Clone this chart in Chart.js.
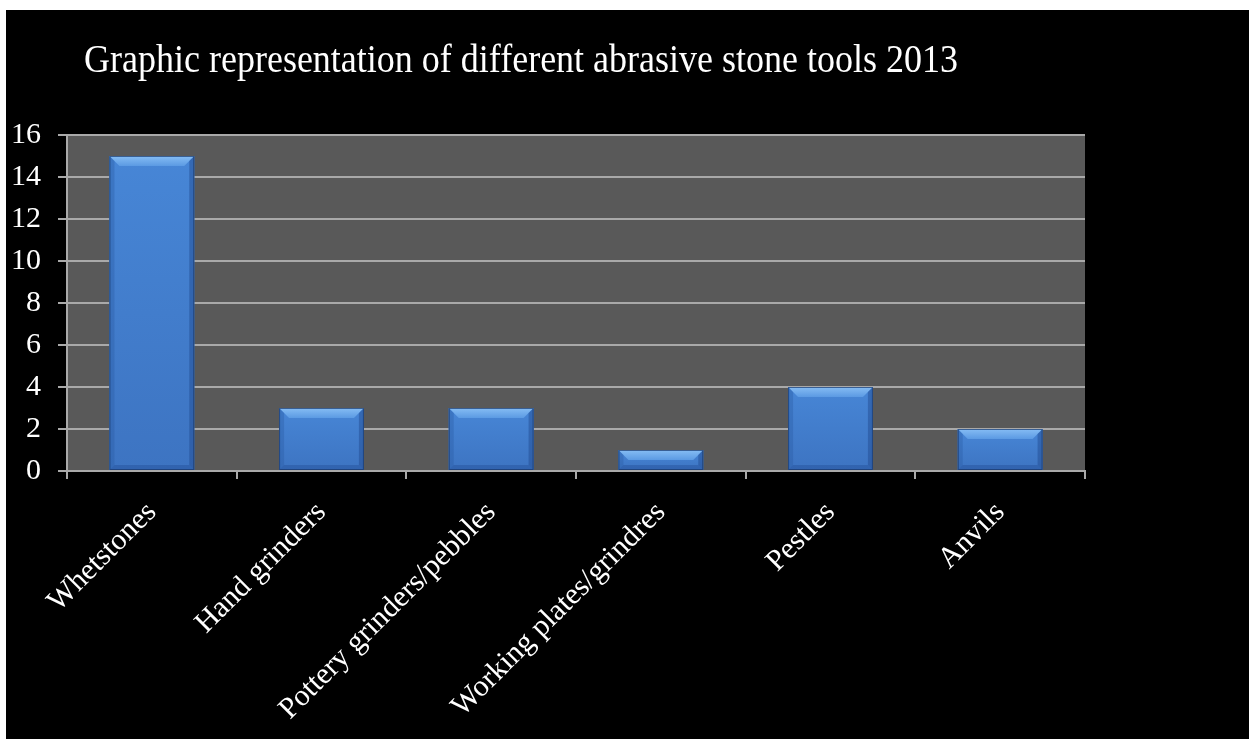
<!DOCTYPE html>
<html>
<head>
<meta charset="utf-8">
<title>Abrasive stone tools 2013</title>
<script src="https://cdn.jsdelivr.net/npm/chart.js@4"></script>
<style>
  html, body { margin: 0; padding: 0; background: #ffffff; }
  #wrap { position: absolute; left: 6px; top: 10px; width: 1243px; height: 729px; background: #000000; }
  #toolChart { display: block; }
</style>
</head>
<body>
<div id="wrap">
  <canvas id="toolChart" width="1243" height="729"></canvas>
</div>
<script>
// tool counts per category
var chartTitle = 'Graphic representation of different abrasive stone tools 2013';
var toolTypes = ['Whetstones', 'Hand grinders', 'Pottery grinders/pebbles', 'Working plates/grindres', 'Pestles', 'Anvils'];
var toolCounts = [15, 3, 3, 1, 4, 2];
var yTicks = [0, 2, 4, 6, 8, 10, 12, 14, 16];

var gridGray = '#a9a9a9';
var serif = '"Liberation Serif", "Times New Roman", serif';

// black page + grey plot area
var plotBackground = {
  id: 'plotBackground',
  beforeDraw: function(chart) {
    var ctx = chart.ctx, a = chart.chartArea;
    ctx.save();
    ctx.fillStyle = '#000000';
    ctx.fillRect(0, 0, chart.width, chart.height);
    ctx.fillStyle = '#595959';
    ctx.fillRect(a.left, a.top, a.right - a.left, a.bottom - a.top);
    ctx.restore();
  }
};

// bevelled edges on each bar
var barBevel = {
  id: 'barBevel',
  afterDatasetsDraw: function(chart) {
    var ctx = chart.ctx;
    var meta = chart.getDatasetMeta(0);
    meta.data.forEach(function(bar) {
      var p = bar.getProps(['x', 'y', 'base', 'width'], true);
      var l = p.x - p.width / 2, r = p.x + p.width / 2;
      var t = Math.min(p.y, p.base), b = Math.max(p.y, p.base);
      var s = Math.min(10, (b - t) / 2);
      ctx.save();
      // face
      var face = ctx.createLinearGradient(0, t, 0, b);
      face.addColorStop(0, '#4786d6');
      face.addColorStop(1, '#3d74c2');
      ctx.fillStyle = face;
      ctx.fillRect(l, t, r - l, b - t);
      // top
      var top = ctx.createLinearGradient(0, t, 0, t + s);
      top.addColorStop(0, '#86bdf4');
      top.addColorStop(1, '#5b9ae3');
      ctx.fillStyle = top;
      ctx.beginPath();
      ctx.moveTo(l, t); ctx.lineTo(r, t); ctx.lineTo(r - s, t + s); ctx.lineTo(l + s, t + s);
      ctx.closePath(); ctx.fill();
      // left
      ctx.fillStyle = 'rgba(40,90,160,0.35)';
      ctx.beginPath();
      ctx.moveTo(l, t); ctx.lineTo(l + s / 2, t + s / 2); ctx.lineTo(l + s / 2, b - s / 2); ctx.lineTo(l, b);
      ctx.closePath(); ctx.fill();
      // right
      ctx.fillStyle = 'rgba(30,70,140,0.45)';
      ctx.beginPath();
      ctx.moveTo(r, t); ctx.lineTo(r - s / 2, t + s / 2); ctx.lineTo(r - s / 2, b - s / 2); ctx.lineTo(r, b);
      ctx.closePath(); ctx.fill();
      // bottom
      ctx.fillStyle = 'rgba(30,70,140,0.35)';
      ctx.beginPath();
      ctx.moveTo(l, b); ctx.lineTo(l + s / 2, b - s / 2); ctx.lineTo(r - s / 2, b - s / 2); ctx.lineTo(r, b);
      ctx.closePath(); ctx.fill();
      // dark outline
      ctx.strokeStyle = 'rgba(25,55,105,0.7)';
      ctx.lineWidth = 1;
      ctx.strokeRect(l + 0.5, t + 0.5, r - l - 1, b - t - 1);
      ctx.restore();
    });
  }
};

// heading text, slightly tall serif
var headline = {
  id: 'headline',
  afterDraw: function(chart) {
    var ctx = chart.ctx;
    ctx.save();
    ctx.font = '36px ' + serif;
    ctx.fillStyle = '#ffffff';
    ctx.textBaseline = 'alphabetic';
    ctx.translate(78, 62);
    ctx.scale(1, 1.14);
    ctx.fillText(chartTitle, 0, 0);
    ctx.restore();
  }
};

var ctx = document.getElementById('toolChart').getContext('2d');
var chart = new Chart(ctx, {
  type: 'bar',
  data: {
    labels: toolTypes,
    datasets: [{
      data: toolCounts,
      backgroundColor: '#4683d3',
      borderWidth: 0,
      barPercentage: 0.5,
      categoryPercentage: 1.0
    }]
  },
  options: {
    responsive: false,
    devicePixelRatio: 1,
    animation: false,
    layout: { padding: { top: 125, left: 0, right: 164, bottom: 0 } },
    plugins: {
      legend: { display: false },
      tooltip: { enabled: false },
      title: { display: false }
    },
    scales: {
      x: {
        afterFit: function(scale) { scale.height = 268; },
        grid: {
          offset: true,
          drawOnChartArea: false,
          drawTicks: true,
          tickLength: 8,
          color: gridGray,
          lineWidth: 2
        },
        border: { display: true, color: gridGray, width: 2 },
        ticks: {
          autoSkip: false,
          minRotation: 45,
          maxRotation: 45,
          padding: 16,
          color: '#ffffff',
          font: { family: serif, size: 30 }
        }
      },
      y: {
        min: 0,
        max: 16,
        afterFit: function(scale) { scale.width = 61; },
        afterBuildTicks: function(scale) {
          scale.ticks = yTicks.map(function(v) { return { value: v }; });
        },
        grid: {
          color: gridGray,
          lineWidth: 2,
          tickLength: 9,
          drawTicks: true
        },
        border: { display: true, color: gridGray, width: 2 },
        ticks: {
          padding: 17,
          color: '#ffffff',
          font: { family: serif, size: 30 }
        }
      }
    }
  },
  plugins: [plotBackground, barBevel, headline]
});
</script>
</body>
</html>
